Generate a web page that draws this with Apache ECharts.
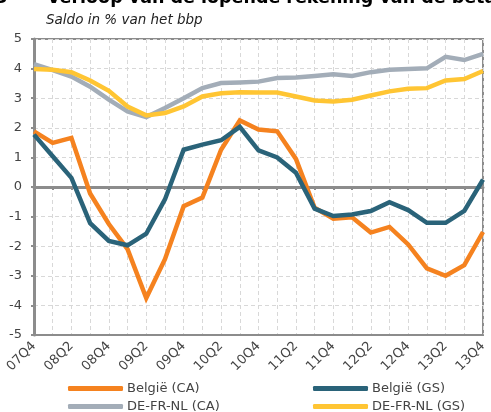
<!DOCTYPE html>
<html>
<head>
<meta charset="utf-8">
<script src="https://cdn.jsdelivr.net/npm/echarts@6/dist/echarts.min.js"></script>
<style>
  html, body { margin: 0; padding: 0; background: #fff; }
  #chart { width: 491px; height: 412px; }
</style>
</head>
<body>
<div id="chart"></div>
<script>
// kwartalen 07Q4 .. 13Q4
const quarters = ['07Q4', '08Q1', '08Q2', '08Q3', '08Q4', '09Q1', '09Q2', '09Q3', '09Q4',
  '10Q1', '10Q2', '10Q3', '10Q4', '11Q1', '11Q2', '11Q3', '11Q4',
  '12Q1', '12Q2', '12Q3', '12Q4', '13Q1', '13Q2', '13Q3', '13Q4']

// saldo in % van het bbp
const belgieCA = [1.88, 1.49, 1.66, -0.22, -1.25, -2.1, -3.75, -2.44, -0.65, -0.36, 1.26, 2.25, 1.94,
  1.88, 0.95, -0.7, -1.07, -1.02, -1.54, -1.35, -1.94, -2.75, -3.0, -2.64, -1.52]
const belgieGS = [1.77, 1.04, 0.31, -1.22, -1.82, -1.97, -1.58, -0.42, 1.26, 1.43, 1.58, 2.03, 1.24,
  1.0, 0.48, -0.73, -0.98, -0.93, -0.81, -0.51, -0.78, -1.21, -1.21, -0.81, 0.25]
const defrnlCA = [4.15, 3.95, 3.73, 3.39, 2.95, 2.55, 2.36, 2.67, 3.0, 3.34, 3.51, 3.53, 3.56,
  3.68, 3.7, 3.75, 3.81, 3.75, 3.88, 3.96, 3.99, 4.01, 4.4, 4.29, 4.5]
const defrnlGS = [3.99, 3.96, 3.88, 3.6, 3.25, 2.72, 2.42, 2.5, 2.72, 3.06, 3.17, 3.2, 3.19,
  3.19, 3.06, 2.92, 2.89, 2.95, 3.09, 3.23, 3.32, 3.34, 3.6, 3.65, 3.92]

const FONT = 'DejaVu Sans'
const axisGrey = '#8c8c8c'

const chart = echarts.init(document.getElementById('chart'))

const lineSeries = (name, data, color) => ({
  name: name,
  type: 'line',
  data: data,
  symbol: 'none',
  lineStyle: { width: 4.5, color: color, join: 'miter' },
  itemStyle: { color: color }
})

// een legende per item, zodat de twee kolommen vast staan
const legendItem = (name, left, top) => ({
  data: [name],
  left: left,
  top: top,
  icon: 'roundRect',
  itemWidth: 55,
  itemHeight: 5,
  itemGap: 4,
  padding: 0,
  textStyle: { fontSize: 13, color: '#444', fontFamily: FONT, padding: [0, 0, 0, -1] }
})

chart.setOption({
  animation: false,
  textStyle: { fontFamily: FONT },
  title: [
    {
      text: '3',
      left: -10,
      top: -16,
      textStyle: { fontSize: 18, fontWeight: 'bold', color: '#000', fontFamily: FONT }
    },
    {
      text: 'Verloop van de lopende rekening van de betalingsbalans',
      left: 42,
      top: -16,
      textStyle: { fontSize: 17.5, fontWeight: 'bold', color: '#000', fontFamily: FONT }
    },
    {
      text: 'Saldo in % van het bbp',
      left: 41,
      top: 8,
      textStyle: { fontSize: 13.5, fontStyle: 'italic', fontWeight: 'normal', color: '#222', fontFamily: FONT }
    }
  ],
  grid: {
    left: 34,
    right: 8,
    top: 39,
    bottom: 77,
    show: true,
    borderColor: axisGrey,
    borderWidth: 2
  },
  legend: [
    legendItem('België (CA)', 68, 382),
    legendItem('DE-FR-NL (CA)', 68, 400),
    legendItem('België (GS)', 313, 382),
    legendItem('DE-FR-NL (GS)', 313, 400)
  ],
  xAxis: [
    {
      type: 'category',
      data: quarters,
      boundaryGap: false,
      axisLine: { onZero: false, show: true, lineStyle: { color: axisGrey, width: 2 } },
      axisTick: { show: false },
      axisLabel: {
        interval: 1,
        rotate: 45,
        fontSize: 13,
        color: '#444',
        margin: 9
      },
      splitLine: {
        show: true,
        interval: 0,
        lineStyle: { color: '#d8d8d8', type: [4, 3], width: 1 }
      }
    },
    {
      type: 'category',
      data: quarters,
      boundaryGap: false,
      position: 'bottom',
      axisLine: { onZero: true, show: true, lineStyle: { color: axisGrey, width: 3 } },
      axisTick: { show: true, interval: 0, length: 3, lineStyle: { color: axisGrey, width: 2 } },
      axisLabel: { show: false },
      splitLine: { show: false }
    }
  ],
  yAxis: {
    type: 'value',
    min: -5,
    max: 5,
    interval: 1,
    axisLine: { show: true, lineStyle: { color: axisGrey, width: 3 } },
    axisTick: { show: true, length: 3, lineStyle: { color: axisGrey, width: 2 } },
    axisLabel: { fontSize: 13, color: '#444', margin: 12 },
    splitLine: { show: true, lineStyle: { color: '#d8d8d8', type: [4, 3], width: 1 } }
  },
  series: [
    lineSeries('België (CA)', belgieCA, '#f5821f'),
    lineSeries('België (GS)', belgieGS, '#2a6379'),
    lineSeries('DE-FR-NL (CA)', defrnlCA, '#a3adb8'),
    lineSeries('DE-FR-NL (GS)', defrnlGS, '#ffc533')
  ]
})
</script>
</body>
</html>
